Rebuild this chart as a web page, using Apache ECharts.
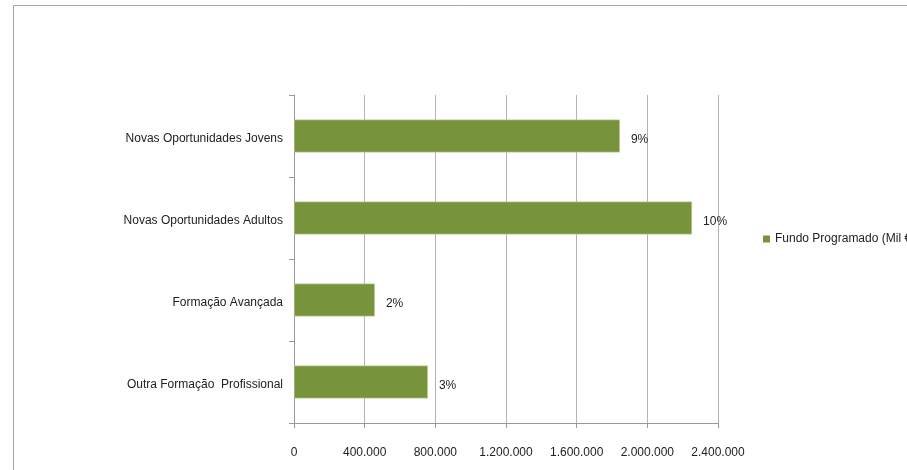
<!DOCTYPE html>
<html>
<head>
<meta charset="utf-8">
<script src="https://cdn.jsdelivr.net/npm/echarts@6/dist/echarts.min.js"></script>
<style>
html,body{margin:0;padding:0;background:#fff;}
#chart{width:907px;height:470px;}
</style>
</head>
<body>
<div id="chart"></div>
<script>
var categories = ['Novas Oportunidades Jovens', 'Novas Oportunidades Adultos', 'Formação Avançada', 'Outra Formação  Profissional'];
var fundoProgramado = [1845000, 2253000, 458000, 758000];
var percentLabels = ['9%', '10%', '2%', '3%'];
var seriesName = 'Fundo Programado (Mil €)';
var xTicks = [0, 400000, 800000, 1200000, 1600000, 2000000, 2400000];

var FONT = '"Liberation Sans", "DejaVu Sans", sans-serif';
function fmt(v) {
  return String(v).replace(/\B(?=(\d{3})+(?!\d))/g, '.');
}
var chart = echarts.init(document.getElementById('chart'));
chart.setOption({
  animation: false,
  backgroundColor: '#ffffff',
  graphic: [{
    type: 'rect',
    shape: { x: 13.5, y: 5.5, width: 1000, height: 1000 },
    style: { fill: 'none', stroke: '#a6a6a6', lineWidth: 1 },
    silent: true
  }],
  legend: {
    left: 758,
    top: 228,
    orient: 'vertical',
    itemWidth: 7,
    itemHeight: 7,
    itemGap: 6,
    icon: 'rect',
    itemStyle: { borderWidth: 0 },
    textStyle: { fontFamily: FONT, fontSize: 12, color: '#222' },
    data: [seriesName]
  },
  grid: { left: 294, right: 189, top: 95, bottom: 47, containLabel: false },
  xAxis: {
    type: 'value',
    min: xTicks[0],
    max: xTicks[xTicks.length - 1],
    interval: 400000,
    axisLine: { show: true, lineStyle: { color: '#999', width: 1 } },
    axisTick: { show: true, length: 5, lineStyle: { color: '#999' } },
    splitLine: { show: true, lineStyle: { color: '#b3b3b3', width: 1 } },
    axisLabel: {
      margin: 24,
      fontFamily: FONT,
      fontSize: 12,
      color: '#222',
      formatter: function (v) { return fmt(v); }
    }
  },
  yAxis: {
    type: 'category',
    data: categories,
    inverse: true,
    axisLine: { show: true, lineStyle: { color: '#999', width: 1 } },
    axisTick: { show: true, length: 5, inside: false, alignWithLabel: false, lineStyle: { color: '#999' } },
    splitLine: { show: false },
    axisLabel: {
      margin: 11,
      fontFamily: FONT,
      fontSize: 12,
      color: '#222',
      formatter: function (v) { return '{a|' + v + '}'; },
      rich: {
        a: { fontFamily: FONT, fontSize: 12, color: '#222', padding: [5, 0, 0, 0] }
      }
    }
  },
  series: [{
    name: seriesName,
    type: 'bar',
    data: fundoProgramado,
    barWidth: '40%',
    itemStyle: { color: '#77933c', borderColor: '#d6e3bc', borderWidth: 0.5 },
    label: {
      show: true,
      position: 'right',
      distance: 11,
      offset: [0, 4],
      fontFamily: FONT,
      fontSize: 12,
      color: '#222',
      formatter: function (p) { return percentLabels[p.dataIndex]; }
    }
  }]
});
</script>
</body>
</html>
